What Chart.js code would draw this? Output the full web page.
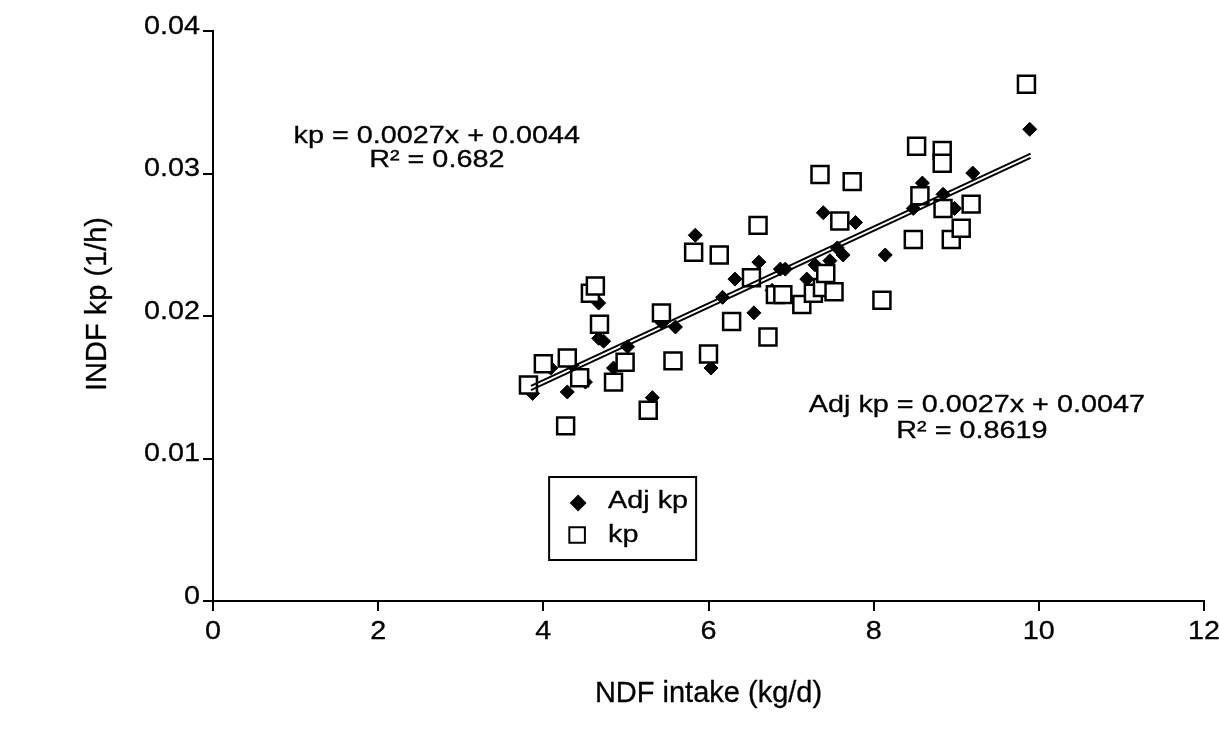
<!DOCTYPE html>
<html>
<head>
<meta charset="utf-8">
<script src="https://cdn.jsdelivr.net/npm/chart.js@4.4.1/dist/chart.umd.min.js"></script>
<style>
  body { margin: 0; background: #fff; }
  canvas { display: block; }
</style>
</head>
<body>
<canvas id="kpChart" width="1219" height="742"></canvas>
<script>
// NDF intake (kg/d) and kp values
const kpX = [3.82, 4.00, 4.27, 4.29, 4.44, 4.57, 4.63, 4.68, 4.85, 4.99, 5.27, 5.43, 5.57, 5.82,
    6.13, 6.00, 6.28, 6.52, 6.60, 6.72, 6.81, 6.90, 7.13, 7.27, 7.38, 7.35, 7.42, 7.52, 7.59,
    7.74, 8.10, 8.48, 8.52, 8.56, 8.83, 8.83, 8.84, 8.94, 9.06, 9.18, 9.85];
const kpY = [0.01516, 0.01665, 0.01229, 0.01705, 0.01566, 0.02160, 0.02210, 0.01942, 0.01536,
    0.01675, 0.01338, 0.02022, 0.01685, 0.02448, 0.02428, 0.01734, 0.01962, 0.02269, 0.02636,
    0.01853, 0.02150, 0.02150, 0.02081, 0.02160, 0.02200, 0.02993, 0.02299, 0.02170, 0.02666,
    0.02943, 0.02111, 0.02537, 0.03191, 0.02844, 0.03161, 0.03072, 0.02755, 0.02537, 0.02616,
    0.02785, 0.03627];

const adjX = [3.87, 4.09, 4.29, 4.35, 4.51, 4.67, 4.67, 4.73, 4.85, 5.02, 5.32, 5.44, 5.60, 5.84,
    6.03, 6.17, 6.32, 6.55, 6.61, 6.87, 6.93, 6.77, 7.19, 7.29, 7.47, 7.56, 7.63, 7.39, 7.78,
    8.14, 8.48, 8.59, 8.84, 8.98, 9.20, 9.89];
const adjY = [0.01457, 0.01635, 0.01467, 0.01655, 0.01536, 0.02091, 0.01843, 0.01823, 0.01635,
    0.01784, 0.01427, 0.01952, 0.01923, 0.02567, 0.01635, 0.02131, 0.02259, 0.02022, 0.02378,
    0.02329, 0.02329, 0.02180, 0.02259, 0.02359, 0.02388, 0.02478, 0.02428, 0.02725, 0.02656,
    0.02428, 0.02755, 0.02933, 0.02854, 0.02755, 0.03003, 0.03310];

// trend line end points
const fitX = [3.85, 9.9];
const kpFit = [0.0148, 0.0311];
const adjFit = [0.0151, 0.0314];

const xTicks = [0, 2, 4, 6, 8, 10, 12];
const yTicks = [0, 0.01, 0.02, 0.03, 0.04];

const kpEq = ["kp = 0.0027x + 0.0044", "R\u00B2 = 0.682"];
const adjEq = ["Adj kp = 0.0027x + 0.0047", "R\u00B2 = 0.8619"];

const FONT = "'Liberation Sans', Arial, sans-serif";

function toPoints(xs, ys) {
    return xs.map((x, i) => ({ x: x, y: ys[i] }));
}

// the scanned figure's lettering is a bit wider than Arial
function wideText(ctx, text, x, y, size, sx, align) {
    ctx.save();
    ctx.font = size + "px " + FONT;
    ctx.textBaseline = "middle";
    ctx.textAlign = align;
    ctx.translate(x, y);
    ctx.scale(sx, 1);
    ctx.fillText(text, 0, 0);
    ctx.lineWidth = 0.3;
    ctx.strokeText(text, 0, 0);
    ctx.restore();
}

const extras = {
    id: "extras",
    afterDraw(chart) {
        const ctx = chart.ctx;
        const xs = chart.scales.x, ys = chart.scales.y;
        const area = chart.chartArea;
        ctx.save();
        ctx.fillStyle = "#000";
        ctx.strokeStyle = "#000";

        // tick labels
        xTicks.forEach(v => wideText(ctx, String(v), xs.getPixelForValue(v), area.bottom + 31, 25, 1.15, "center"));
        yTicks.forEach(v => wideText(ctx, String(v), area.left - 13, ys.getPixelForValue(v) - 4, 25, 1.15, "right"));

        // axis titles
        wideText(ctx, "NDF intake (kg/d)", (area.left + area.right) / 2, area.bottom + 93, 29, 1, "center");
        ctx.save();
        ctx.translate(98, (area.top + area.bottom) / 2 - 12);
        ctx.rotate(-Math.PI / 2);
        wideText(ctx, "INDF kp (1/h)", 0, 0, 29, 1, "center");
        ctx.restore();

        // equations
        wideText(ctx, kpEq[0], xs.getPixelForValue(2.71), ys.getPixelForValue(0.0326), 24, 1.2, "center");
        wideText(ctx, kpEq[1], xs.getPixelForValue(2.71), ys.getPixelForValue(0.0309), 24, 1.2, "center");
        wideText(ctx, adjEq[0], xs.getPixelForValue(9.25), ys.getPixelForValue(0.0137), 24, 1.2, "center");
        wideText(ctx, adjEq[1], xs.getPixelForValue(9.19), ys.getPixelForValue(0.0119), 24, 1.2, "center");

        // legend
        const lx = xs.getPixelForValue(4.07), ly = ys.getPixelForValue(0.0087);
        ctx.lineWidth = 2;
        ctx.strokeRect(lx, ly, 147, 83);
        Chart.helpers.drawPoint(ctx, { pointStyle: "rectRot", radius: 7, borderWidth: 1 }, lx + 29, ly + 26);
        ctx.fillStyle = "#fff";
        Chart.helpers.drawPoint(ctx, { pointStyle: "rect", radius: 11, borderWidth: 2 }, lx + 28, ly + 58);
        ctx.fillStyle = "#000";
        wideText(ctx, "Adj kp", lx + 59, ly + 25, 23, 1.25, "left");
        wideText(ctx, "kp", lx + 59, ly + 59, 23, 1.25, "left");
        ctx.restore();
    }
};

const ctx = document.getElementById("kpChart").getContext("2d");
const kpChart = new Chart(ctx, {
    type: "scatter",
    data: {
        datasets: [
            {
                label: "kp fit",
                type: "line",
                data: toPoints(fitX, kpFit),
                borderColor: "#000",
                borderWidth: 2,
                pointRadius: 0,
                fill: false
            },
            {
                label: "Adj kp fit",
                type: "line",
                data: toPoints(fitX, adjFit),
                borderColor: "#000",
                borderWidth: 2,
                pointRadius: 0,
                fill: false
            },
            {
                label: "kp",
                data: toPoints(kpX, kpY),
                pointStyle: "rect",
                pointRadius: 12,
                backgroundColor: "#fff",
                borderColor: "#000",
                borderWidth: 2.5
            },
            {
                label: "Adj kp",
                data: toPoints(adjX, adjY),
                pointStyle: "rectRot",
                pointRadius: 7,
                backgroundColor: "#000",
                borderColor: "#000",
                borderWidth: 1
            }
        ]
    },
    options: {
        responsive: false,
        animation: false,
        devicePixelRatio: 1,
        layout: { padding: { left: 84, top: 31, right: 15, bottom: 20 } },
        plugins: {
            legend: { display: false },
            tooltip: { enabled: false }
        },
        scales: {
            x: {
                type: "linear",
                min: 0,
                max: 12,
                afterBuildTicks: s => { s.ticks = xTicks.map(v => ({ value: v })); },
                afterFit: s => { s.height = 121; },
                border: { color: "#000", width: 2 },
                grid: { drawOnChartArea: false, color: "#000", lineWidth: 2, tickLength: 10 },
                ticks: { display: false }
            },
            y: {
                type: "linear",
                min: 0,
                max: 0.04,
                afterBuildTicks: s => { s.ticks = yTicks.map(v => ({ value: v })); },
                afterFit: s => { s.width = 129; },
                border: { color: "#000", width: 2 },
                grid: { drawOnChartArea: false, color: "#000", lineWidth: 2, tickLength: 10 },
                ticks: { display: false }
            }
        }
    },
    plugins: [extras]
});
</script>
</body>
</html>
